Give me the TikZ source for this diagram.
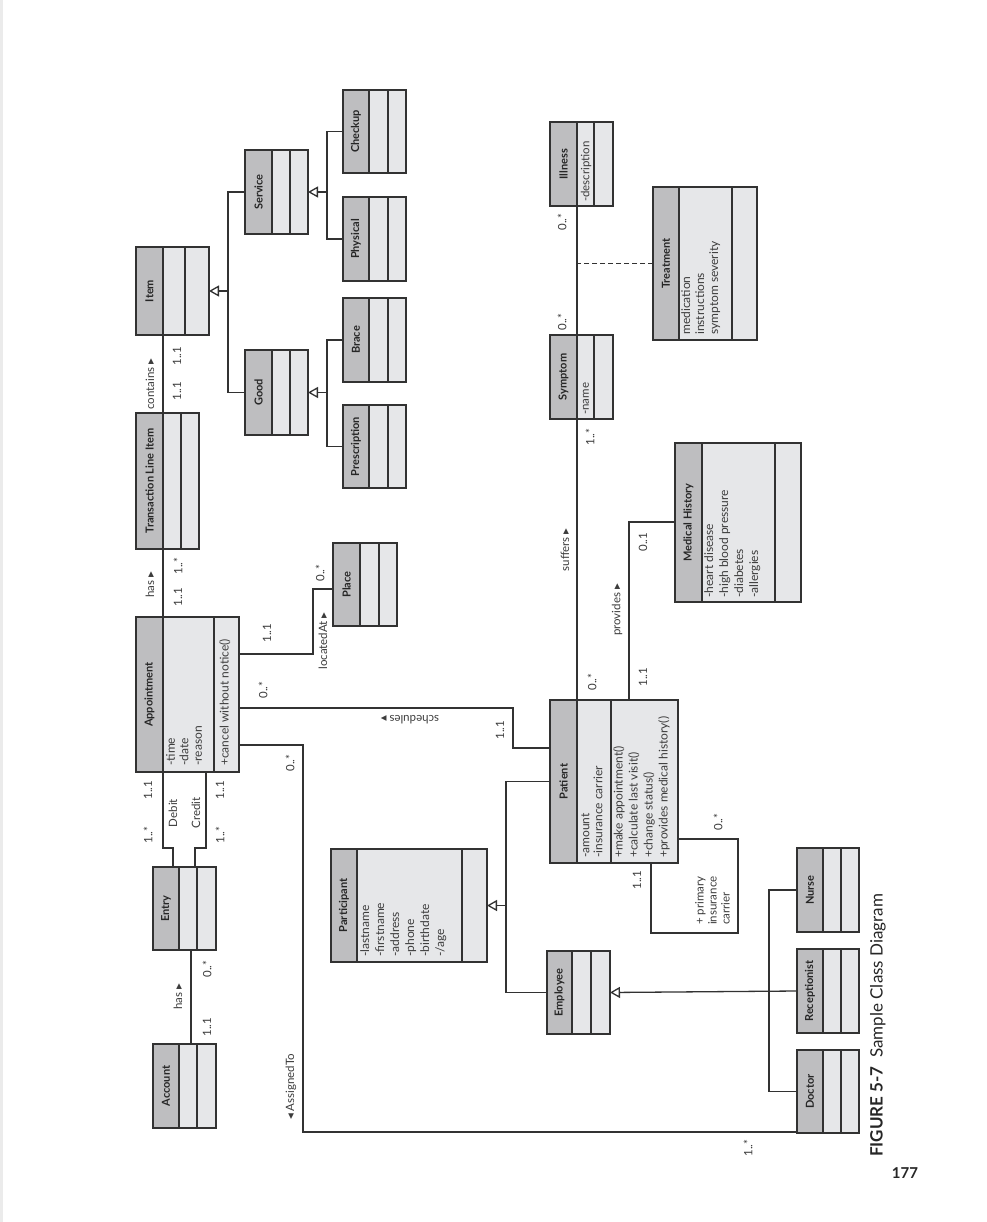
\documentclass[tikz,border=0pt]{standalone}
\usepackage{fontspec}
\setmainfont{Lato}
\newfontfamily\symfont{DejaVu Sans}
\usetikzlibrary{arrows.meta,fit}

\definecolor{headfill}{RGB}{190,190,192}
\definecolor{cellfill}{RGB}{230,231,233}
\definecolor{inkline}{RGB}{50,50,50}
\definecolor{inktext}{RGB}{60,60,60}

\newcommand{\rtri}{{\symfont ▸}}
\newcommand{\ltri}{{\symfont ◂}}

% class box: name, x1, y1, x2, y2, title edge, divider, title
\newcommand{\umlclass}[8]{%
  \fill[cellfill] (#2,#3) rectangle (#4,#5);
  \fill[headfill] (#2,#3) rectangle (#6,#5);
  \draw[cellline] (#6,#3) -- (#6,#5) (#7,#3) -- (#7,#5);
  \node[classframe, fit={(#2,#3) (#4,#5)}] (#1) {};
  \node[classtitle] (#1-title) at ({(#2+#6)/2},{(#3+#5)/2}) {#8};
}

\tikzset{
  classframe/.style={draw=inkline, line width=1.8pt, inner sep=0pt, outer sep=0pt},
  cellline/.style={draw=inkline, line width=1.5pt},
  classtitle/.style={rotate=90, font=\fontsize{11}{12}\selectfont\bfseries, text=black!85, inner sep=0pt},
  members/.style={rotate=90, font=\fontsize{12}{14}\selectfont, text=inktext, align=left, inner sep=0pt, anchor=north west},
  lbl/.style={rotate=90, font=\fontsize{11.5}{13}\selectfont, text=inktext, inner sep=0pt},
  assoc/.style={draw=inkline, line width=1.3pt},
  inherit/.style={assoc, -{Triangle[open, length=10pt, width=11pt, fill=white]}},
}

\begin{document}
\begin{tikzpicture}[x=1pt,y=-1pt]
  \useasboundingbox (0,0) rectangle (986,1222);
  \fill[white] (0,0) rectangle (986,1222);
  \fill[black!8] (0,0) rectangle (3,1222);

  % classes
  \umlclass{item}{136}{247}{209}{335}{163}{185}{Item}
  \umlclass{tli}{136}{413}{199}{549}{163}{181}{Transaction Line Item}
  \umlclass{appt}{136}{617}{239}{772}{163}{214}{Appointment}
  \umlclass{entry}{153}{867}{216}{950}{179}{197}{Entry}
  \umlclass{acct}{153}{1044}{216}{1128}{179}{197}{Account}
  \umlclass{service}{245}{150}{308}{234}{272}{290}{Service}
  \umlclass{good}{245}{350}{308}{435}{272}{290}{Good}
  \umlclass{checkup}{343}{90}{406}{173}{369}{388}{Checkup}
  \umlclass{physical}{343}{197}{406}{281}{369}{388}{Physical}
  \umlclass{brace}{343}{298}{406}{382}{369}{388}{Brace}
  \umlclass{prescr}{343}{405}{406}{488}{369}{388}{Prescription}
  \umlclass{place}{333}{543}{397}{626}{360}{379}{Place}
  \umlclass{particip}{331}{849}{487}{962}{357}{462}{Participant}
  \umlclass{patient}{550}{700}{678}{863}{577}{611}{Patient}
  \umlclass{employee}{547}{951}{610}{1034}{572}{591}{Employee}
  \umlclass{symptom}{550}{335}{613}{419}{577}{594}{Symptom}
  \umlclass{illness}{550}{122}{613}{206}{577}{594}{Illness}
  \umlclass{treatment}{653}{187}{757}{340}{679}{732}{Treatment}
  \umlclass{medhist}{675}{443}{801}{602}{702}{775}{Medical History}
  \umlclass{nurse}{797}{848}{859}{932}{823}{841}{Nurse}
  \umlclass{recept}{797}{949}{859}{1033}{823}{841}{Receptionist}
  \umlclass{doctor}{797}{1050}{859}{1133}{823}{841}{Doctor}

  % members
  \node[members, font=\fontsize{12}{13.5}\selectfont] (appt-attr) at (166,766) {-time\\-date\\-reason};
  \node[members] (appt-ops) at (219,766) {+cancel without notice()};
  \node[members, font=\fontsize{12}{15}\selectfont] (particip-attr) at (360,957)
    {-lastname\\-firstname\\-address\\-phone\\-birthdate\\-/age};
  \node[members, font=\fontsize{12}{13}\selectfont] (patient-attr) at (581,858)
    {-amount\\-insurance carrier};
  \node[members, font=\fontsize{12}{15}\selectfont] (patient-ops) at (613,858)
    {+make appointment()\\+calculate last visit()\\+change status()\\+provides medical history()};
  \node[members, font=\fontsize{12}{15}\selectfont] (medhist-attr) at (704,598)
    {-heart disease\\-high blood pressure\\-diabetes\\-allergies};
  \node[members] (treatment-attr) at (681,335) {medication\\instructions\\symptom severity};
  \node[members, anchor=west, font=\fontsize{11.5}{13}\selectfont] (symptom-attr) at (586,415) {-name};
  \node[members, anchor=west, font=\fontsize{11.5}{13}\selectfont] (illness-attr) at (586,202) {-description};

  % generalizations
  \coordinate (itemjn) at ([xshift=19]item.east);
  \draw[assoc] (service.west) -| (itemjn) |- (good.west);
  \draw[inherit] (itemjn) -- (item.east);
  \coordinate (servjn) at ([xshift=19]service.east);
  \draw[assoc] (checkup.west) -| (servjn) |- (physical.west);
  \draw[inherit] (servjn) -- (service.east);
  \coordinate (goodjn) at ([xshift=19]good.east);
  \draw[assoc] (brace.west) -| (goodjn) |- (prescr.west);
  \draw[inherit] (goodjn) -- (good.east);
  \coordinate (partjn) at ([xshift=19]particip.east);
  \draw[assoc] (patient.west) -| (partjn) |- (employee.west);
  \draw[inherit] (partjn) -- (particip.east);
  \coordinate (empjn) at ([xshift=-28]recept.west);
  \draw[assoc] (nurse.west) -| (empjn) |- (doctor.west);
  \draw[inherit] (recept.west) -- (employee.east);

  % associations
  \draw[assoc] ([xshift=27]tli.north west) -- ([xshift=27]item.south west);
  \draw[assoc] ([xshift=27]appt.north west) -- ([xshift=27]tli.south west);
  \draw[assoc] ([yshift=-37]appt.north east) -| (313,589) -- ([yshift=-46]place.north west);
  \draw[assoc] ([yshift=-91]appt.north east) -| (513,748) -- ([yshift=-48]patient.north west);
  \draw[assoc] ([yshift=-128]appt.north east) -| (303,1132) -- ([yshift=1]doctor.south west);
  \draw[assoc] ([xshift=27]appt.south west) |- (173,848) -- ([xshift=20]entry.north west);
  \draw[assoc] ([xshift=70]appt.south west) |- (195,848) -- ([xshift=42]entry.north west);
  \draw[assoc] ([xshift=38]entry.south west) -- ([xshift=38]acct.north west);
  \draw[assoc] ([xshift=27]patient.north west) -- ([xshift=27]symptom.south west);
  \draw[assoc] ([xshift=27]symptom.north west) -- ([xshift=27]illness.south west);
  \coordinate (illlink) at ([xshift=27]illness.south west);
  \draw[assoc, dashed, dash pattern=on 5pt off 3pt] (treatment.west) -- (treatment.west -| illlink);
  \draw[assoc] ([xshift=79]patient.north west) |- ([yshift=-79]medhist.north west);
  \draw[assoc] ([xshift=101]patient.south west) |- (738,933) |- ([yshift=24]patient.south east);

  % association names
  \node[lbl] (lbl-contains) at (150,384) {contains \rtri};
  \node[lbl] (lbl-has1) at (150,585) {has \rtri};
  \node[lbl] (lbl-debit) at (173,813) {Debit};
  \node[lbl] (lbl-credit) at (196,813) {Credit};
  \node[lbl] (lbl-has2) at (178,997) {has \rtri};
  \node[lbl] (lbl-located) at (323,641) {locatedAt \rtri};
  \node[lbl, rotate=90] (lbl-sched) at (410,720) {schedules \rtri};
  \node[lbl] (lbl-assigned) at (291,1087) {\ltri\ AssignedTo};
  \node[lbl] (lbl-suffers) at (565,550) {suffers \rtri};
  \node[lbl] (lbl-provides) at (617,610) {provides \rtri};
  \node[lbl, align=left, anchor=north west] (lbl-primary) at (695,925) {+ primary\\insurance\\carrier};

  % multiplicities
  \foreach \n/\x/\y/\t in {itm/177/356/1..1, tli-a/177/391/1..1, tli-b/178/566/1..*,
      appt-a/178/597/1..1, deb-a/148/790/1..1, deb-b/148/835/1..*,
      cred-a/220/790/1..1, cred-b/220/835/1..*, ent/207/969/0..*, acc/207/1027/1..1,
      plc-a/267/633/1..1, plc-b/320/573/0..*, sch-a/263/690/0..*, sch-b/500/730/1..1,
      asg-a/290/763/0..*, asg-b/748/1148/1..*, suf-a/592/682/0..*, suf-b/590/437/1..*,
      prv-a/643/677/1..1, prv-b/643/542/0..1, ins-a/637/880/1..1, ins-b/718/822/0..*,
      ill/562/222/0..*, sym/562/322/0..*}
    \node[lbl] (mult-\n) at (\x,\y) {\t};

  % caption and page number
  \node[rotate=90, anchor=west, inner sep=0pt, text=black!85,
    font=\fontsize{17}{20}\selectfont] (caption) at (878,1157)
    {\textbf{FIGURE 5-7}\hspace{0.5em}Sample Class Diagram};
  \node[font=\fontsize{15}{18}\selectfont\bfseries, text=black!85] (pageno) at (905,1173) {177};
\end{tikzpicture}
\end{document}
